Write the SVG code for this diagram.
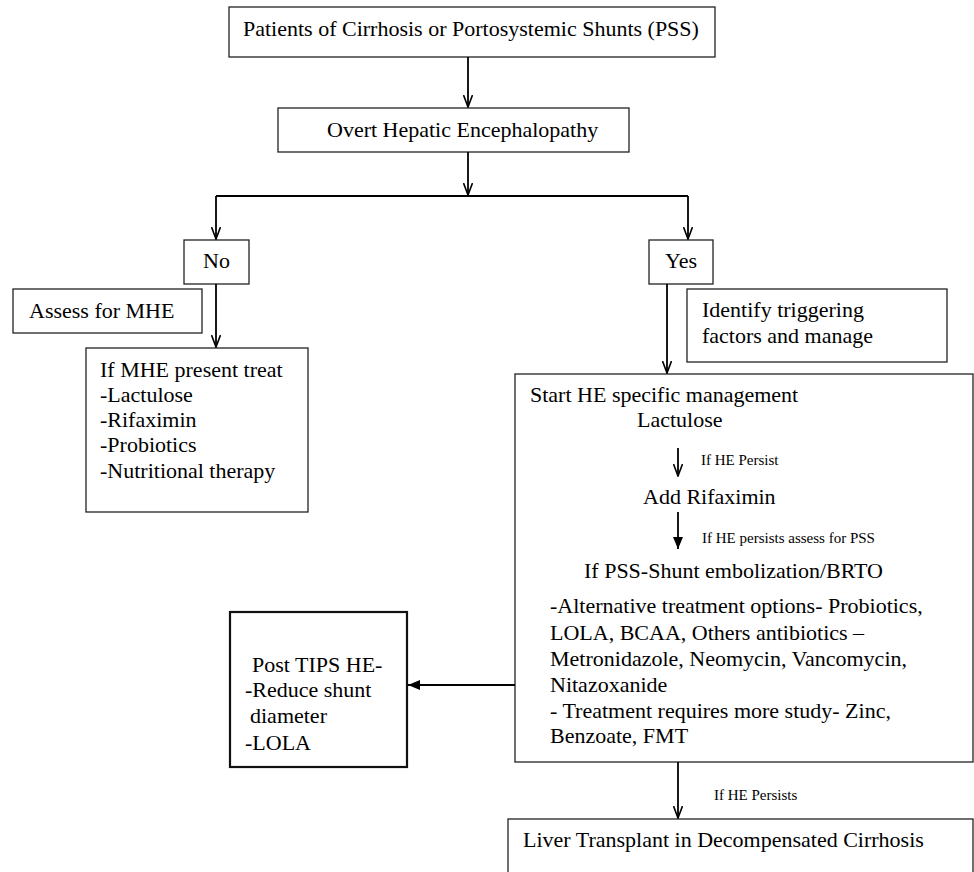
<svg xmlns="http://www.w3.org/2000/svg" width="974" height="872" viewBox="0 0 974 872">
<defs>
<style>
.box{fill:#fff;stroke:#222;stroke-width:1.3}
.thick{fill:#fff;stroke:#111;stroke-width:2.2}
.t{font-family:"Liberation Serif","Times New Roman",serif;font-size:22px;fill:#000}
.s{font-family:"Liberation Serif","Times New Roman",serif;font-size:15px;fill:#000}
.c{fill:none;stroke:#000;stroke-width:1.8}
</style>
<marker id="open" viewBox="0 0 13 10" refX="12.5" refY="5" markerWidth="13" markerHeight="10" markerUnits="userSpaceOnUse" orient="auto">
<path d="M0.5,0.5 L12.5,5 L0.5,9.5" fill="none" stroke="#000" stroke-width="1.6"/>
</marker>
<marker id="fill" viewBox="0 0 12 10" refX="12" refY="5" markerWidth="12" markerHeight="10" markerUnits="userSpaceOnUse" orient="auto">
<path d="M0,0 L12,5 L0,10 Z" fill="#000"/>
</marker>
</defs>
<rect width="974" height="872" fill="#fff"/>

<g id="n-patients">
<rect class="box" x="229" y="7" width="486" height="50"/>
<text class="t" x="243" y="36">Patients of Cirrhosis or Portosystemic Shunts (PSS)</text>
</g>
<g id="n-overt">
<rect class="box" x="278" y="108" width="351" height="44"/>
<text class="t" x="327" y="137">Overt Hepatic Encephalopathy</text>
</g>
<g id="n-no">
<rect class="box" x="184" y="240" width="65" height="44"/>
<text class="t" x="216.5" y="268" text-anchor="middle">No</text>
</g>
<g id="n-yes">
<rect class="box" x="649" y="240" width="64" height="44"/>
<text class="t" x="681" y="268" text-anchor="middle">Yes</text>
</g>
<g id="n-assess">
<rect class="box" x="13" y="289" width="189" height="44"/>
<text class="t" x="29" y="318">Assess for MHE</text>
</g>
<g id="n-mhe">
<rect class="box" x="86" y="348" width="222" height="164"/>
<text class="t" x="100" y="377">If MHE present treat</text>
<text class="t" x="100" y="402">-Lactulose</text>
<text class="t" x="100" y="427">-Rifaximin</text>
<text class="t" x="100" y="452">-Probiotics</text>
<text class="t" x="100" y="478">-Nutritional therapy</text>
</g>
<g id="n-identify">
<rect class="box" x="687" y="289" width="260" height="73"/>
<text class="t" x="702" y="317">Identify triggering</text>
<text class="t" x="702" y="343">factors and manage</text>
</g>
<g id="n-start">
<rect class="box" x="515" y="374" width="458" height="388"/>
<text class="t" x="530" y="402">Start HE specific management</text>
<text class="t" x="637" y="427">Lactulose</text>
<text class="t" x="643" y="504">Add Rifaximin</text>
<text class="t" x="584" y="578">If PSS-Shunt embolization/BRTO</text>
<text class="t" x="550" y="613">-Alternative treatment options- Probiotics,</text>
<text class="t" x="550" y="640">LOLA, BCAA, Others antibiotics –</text>
<text class="t" x="550" y="666">Metronidazole, Neomycin, Vancomycin,</text>
<text class="t" x="550" y="692">Nitazoxanide</text>
<text class="t" x="550" y="718">- Treatment requires more study- Zinc,</text>
<text class="t" x="550" y="743">Benzoate, FMT</text>
</g>
<g id="n-tips">
<rect class="thick" x="230" y="612" width="177" height="155"/>
<text class="t" x="252" y="672">Post TIPS HE-</text>
<text class="t" x="245" y="697">-Reduce shunt</text>
<text class="t" x="250" y="723">diameter</text>
<text class="t" x="245" y="750">-LOLA</text>
</g>
<g id="n-liver">
<rect class="box" x="508" y="819" width="465" height="60"/>
<text class="t" x="523" y="847">Liver Transplant in Decompensated Cirrhosis</text>
</g>

<g id="connectors">
<line class="c" x1="468" y1="57" x2="468" y2="107" marker-end="url(#open)"/>
<line class="c" x1="468" y1="152" x2="468" y2="195" marker-end="url(#open)"/>
<polyline class="c" points="216,196 688,196"/>
<line class="c" x1="216" y1="196" x2="216" y2="239" marker-end="url(#open)"/>
<line class="c" x1="688" y1="196" x2="688" y2="239" marker-end="url(#open)"/>
<line class="c" x1="216" y1="284" x2="216" y2="347" marker-end="url(#open)"/>
<line class="c" x1="667" y1="284" x2="667" y2="373" marker-end="url(#open)"/>
<line class="c" x1="678" y1="448" x2="678" y2="476" marker-end="url(#open)"/>
<line class="c" x1="678" y1="512" x2="678" y2="549" marker-end="url(#fill)"/>
<line class="c" x1="515" y1="685" x2="408" y2="685" marker-end="url(#fill)"/>
<line class="c" x1="678" y1="762" x2="678" y2="818" marker-end="url(#open)"/>
<text class="s" x="701" y="465">If HE Persist</text>
<text class="s" x="702" y="543">If HE persists assess for PSS</text>
<text class="s" x="714" y="800">If HE Persists</text>
</g>
</svg>
